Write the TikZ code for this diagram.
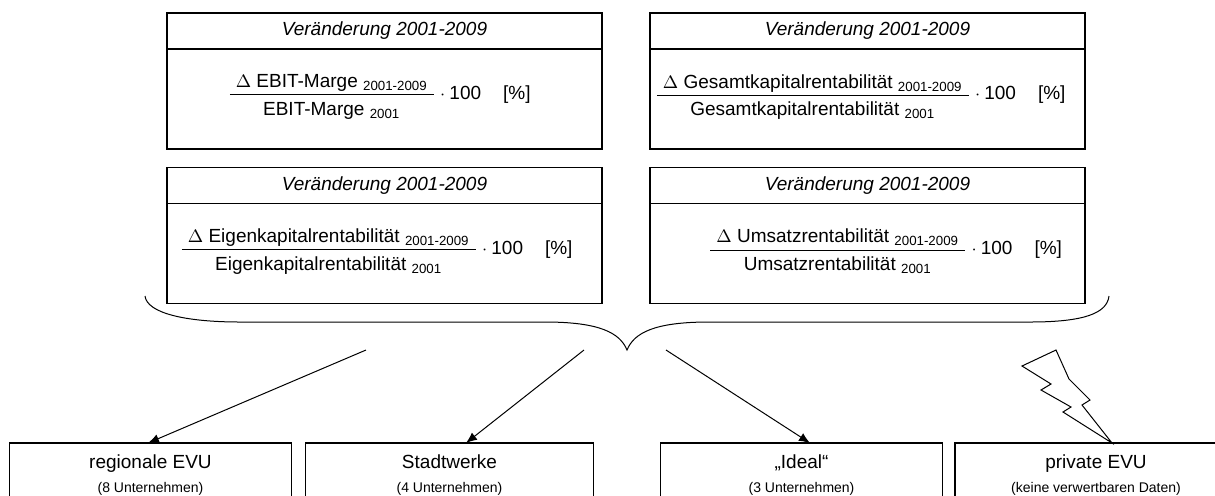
\documentclass[tikz,border=0pt]{standalone}
\usepackage{amsmath}
\usepackage{fontspec}
\setmainfont{Liberation Sans}
\usepackage{tikz}
\usetikzlibrary{positioning,arrows.meta}
\tikzstyle{head}=[draw, line width=0.6pt, outer sep=0pt, minimum width=217.5pt, minimum height=18pt, font=\fontsize{9.5}{11}\selectfont\itshape]
\tikzstyle{body}=[draw, line width=0.6pt, outer sep=0pt, minimum width=217.5pt, minimum height=50pt]
\tikzstyle{ratio}=[inner sep=0pt, font=\fontsize{9.5}{11}\selectfont]
\tikzstyle{cluster}=[draw, line width=0.6pt, outer sep=0pt, anchor=north, minimum width=141pt, minimum height=32pt, align=center, font=\fontsize{9.5}{12}\selectfont]
\tikzstyle{arr}=[-{Latex[length=5.5pt,width=4.5pt]}, line width=0.5pt]
\newcommand{\chg}[1]{$\dfrac{\hspace{3pt}\text{$\Delta$ #1 \textsubscript{2001-2009}}\hspace{3pt}}{\text{\rule{0pt}{9pt}#1 \textsubscript{2001}}}\cdot\text{100}$\hspace{11pt}[\%]}
\newcommand{\firms}[1]{{\fontsize{7}{8}\selectfont(#1)}}

\begin{document}
\begin{tikzpicture}[x=0.5pt, y=-0.5pt]
    \useasboundingbox (0,0) rectangle (1215,495);
    % Kennzahlen, je Kasten Kopf und Formel
    \node[head] (h1) at (384.5,31) {Veränderung 2001-2009};
    \node[body, below=0pt of h1] (b1) {};
    \node[head] (h2) at (867.5,31) {Veränderung 2001-2009};
    \node[body, below=0pt of h2] (b2) {};
    \node[head] (h3) at (384.5,185.5) {Veränderung 2001-2009};
    \node[body, below=0pt of h3] (b3) {};
    \node[head] (h4) at (867.5,185.5) {Veränderung 2001-2009};
    \node[body, below=0pt of h4] (b4) {};
    \node[ratio] (f1) at ([xshift=-2.75pt, yshift=1pt]b1.center) {\chg{EBIT-Marge}};
    \node[ratio] (f2) at ([xshift=-3.75pt, yshift=1pt]b2.center) {\chg{Gesamtkapitalrentabilität}};
    \node[ratio] (f3) at ([xshift=-4.25pt, yshift=1pt]b3.center) {\chg{Eigenkapitalrentabilität}};
    \node[ratio] (f4) at ([xshift=8.75pt, yshift=1pt]b4.center) {\chg{Umsatzrentabilität}};

    % geschweifte Klammer unter allen vier Kaesten
    \draw[line width=0.5pt]
        (145,296) .. controls (147,313) and (185,322) .. (240,322) -- (545,322)
        .. controls (600,322) and (620,333) .. (627,350)
        .. controls (634,333) and (654,322) .. (709,322) -- (1030,322)
        .. controls (1085,322) and (1107,313) .. (1109,296);

    % Gruppen
    \node[cluster] (reg) at (150.5,443) {regionale EVU\\\firms{8 Unternehmen}};
    \node[cluster, minimum width=144pt] (stw) at (449.5,443) {Stadtwerke\\\firms{4 Unternehmen}};
    \node[cluster] (ideal) at (801.5,443) {„Ideal“\\\firms{3 Unternehmen}};
    \node[cluster] (priv) at (1096,443) {private EVU\\\firms{keine verwertbaren Daten}};

    \coordinate (s1) at (366,350);
    \coordinate (s2) at (584,350);
    \coordinate (s3) at (666,350);
    \draw[arr] (s1) -- ([xshift=-1.25pt]reg.north);
    \draw[arr] (s2) -- ([xshift=8.25pt]stw.north);
    \draw[arr] (s3) -- ([xshift=4.25pt]ideal.north);

    % Blitz: keine Daten
    \draw[line width=0.5pt, line join=miter]
        (1022,366) -- (1056,350) -- (1069,379) -- (1090,400) -- (1082,405) -- (1112,443)
        -- (1063,412) -- (1071,407) -- (1041,390) -- (1051,384) -- cycle;
\end{tikzpicture}
\end{document}
